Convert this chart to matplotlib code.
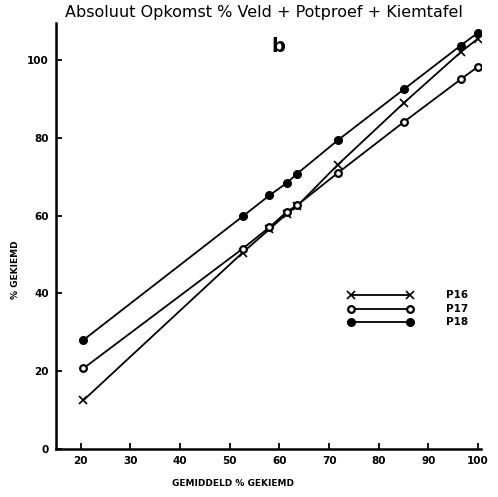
import matplotlib
matplotlib.use("Agg")
import matplotlib.pyplot as plt

# Mean germination (%) per sample
gemiddeld = [20.5, 52.6, 58.0, 61.5, 63.6, 71.7, 85.1, 96.5, 100.0]

# Germination per test
p16 = [12.5, 50.5, 56.5, 60.5, 62.5, 73.0, 89.0, 102.0, 105.5]
p17 = [20.7, 51.5, 57.0, 61.0, 62.7, 70.9, 84.1, 95.0, 98.3]
p18 = [28.0, 59.8, 65.2, 68.4, 70.8, 79.3, 92.5, 103.7, 107.0]

series_names = ["P16", "P17", "P18"]
x_ticks = [20, 30, 40, 50, 60, 70, 80, 90, 100]
y_ticks = [0, 20, 40, 60, 80, 100]

W, H = 498, 497
fig = plt.figure(figsize=(W / 100, H / 100), dpi=100)
ax = fig.add_axes([56 / W, (H - 449) / H, 425 / W, 426 / H])

styles = [
    dict(marker="x", markersize=5.5, markeredgewidth=1.2, markerfacecolor="black"),
    dict(marker="o", markersize=4.8, markeredgewidth=1.6, markerfacecolor="white"),
    dict(marker="o", markersize=5.5, markeredgewidth=1.0, markerfacecolor="black"),
]

for ys, st in zip([p16, p17, p18], styles):
    ax.plot(gemiddeld, ys, color="black", linewidth=1.3, markeredgecolor="black", **st)

ax.set_xlim(15, 100.6)
ax.set_ylim(0, 109.5)
ax.set_xticks(x_ticks)
ax.set_yticks(y_ticks)
ax.spines["top"].set_visible(False)
ax.spines["right"].set_visible(False)
for s in ("left", "bottom"):
    ax.spines[s].set_linewidth(1.8)
ax.tick_params(direction="in", length=4, width=1.3, labelsize=7.5, pad=5)
for lab in ax.get_xticklabels() + ax.get_yticklabels():
    lab.set_fontweight("bold")

# Legend drawn by hand in axes data space
leg_x0, leg_x1 = 74.5, 86.2
leg_y = [39.5, 36.0, 32.6]
for name, st, yy in zip(series_names, styles, leg_y):
    ax.plot([leg_x0, leg_x1], [yy, yy], color="black", linewidth=1.3,
            markeredgecolor="black", **st)
    ax.text(93.5, yy, name, fontsize=7.5, fontweight="bold", va="center", ha="left")

ax.text(58.3, 103.5, "b", fontsize=14, fontweight="bold", ha="left", va="center")

fig.text(264 / W, 1 - 13 / H, "Absoluut Opkomst % Veld + Potproef + Kiemtafel",
         fontsize=11.5, ha="center", va="center")
fig.text(233 / W, 1 - 483 / H, "GEMIDDELD % GEKIEMD", fontsize=6.5,
         fontweight="bold", ha="center", va="center")
fig.text(15 / W, 1 - 270 / H, "% GEKIEMD", fontsize=6.5, fontweight="bold",
         rotation=90, ha="center", va="center")

fig.savefig("out.png", dpi=100)
